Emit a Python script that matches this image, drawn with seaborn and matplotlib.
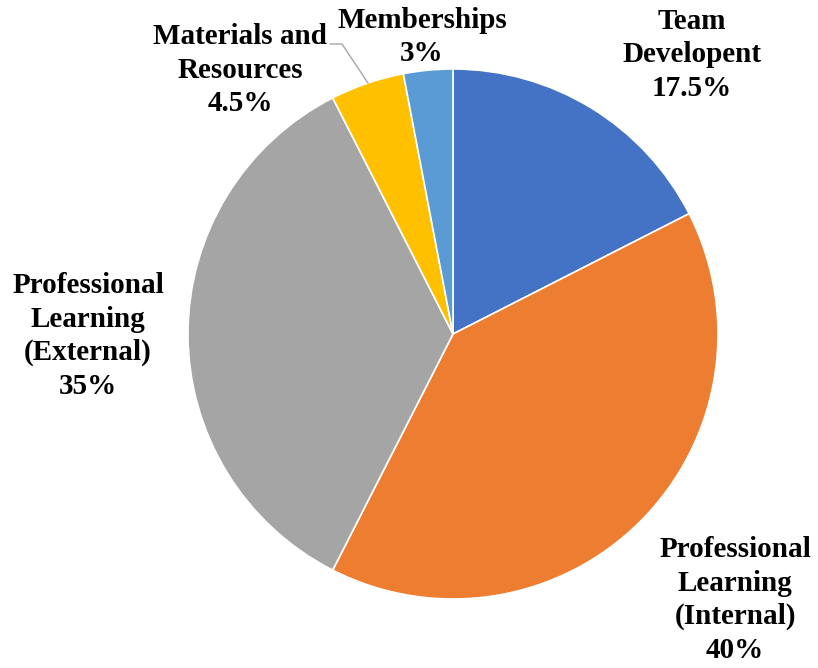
import numpy as np
import seaborn as sns
import matplotlib.pyplot as plt

categories = ['Team\nDevelopent', 'Professional\nLearning\n(Internal)',
              'Professional\nLearning\n(External)', 'Materials and\nResources',
              'Memberships']
shares = [17.5, 40, 35, 4.5, 3]
pct_labels = ['17.5%', '40%', '35%', '4.5%', '3%']
colors = ['#4472C4', '#ED7D31', '#A5A5A5', '#FFC000', '#5B9BD5']

sns.set_style('white')
plt.rcParams['font.family'] = ['Liberation Serif', 'DejaVu Serif']

fig = plt.figure(figsize=(8.18, 6.68), dpi=100)
ax = fig.add_axes([0, 0, 1, 1])

cx, cy, r = 453, 334, 265
wedges, _ = ax.pie(shares, colors=colors, startangle=90, counterclock=False,
                   center=(cx, cy), radius=r, frame=True,
                   wedgeprops=dict(edgecolor='white', linewidth=1.2))
ax.set_xlim(0, 818)
ax.set_ylim(0, 668)
ax.set_aspect('equal')
ax.axis('off')

# label placement (pixel positions, y from top)
label_pos = [(692, 55), (735, 600), (88, 336), (240, 70), (422, 37)]
for name, pct, (x, y) in zip(categories, pct_labels, label_pos):
    ax.text(x, 668 - y, name + '\n' + pct, ha='center', va='center',
            fontsize=21, fontweight='bold', linespacing=1.3, color='black')

# leader line for Materials and Resources
ax.plot([330, 342, 368], [668 - 44, 668 - 44, 668 - 83], color='#A6A6A6', lw=1)

fig.savefig('out.png', dpi=100)
